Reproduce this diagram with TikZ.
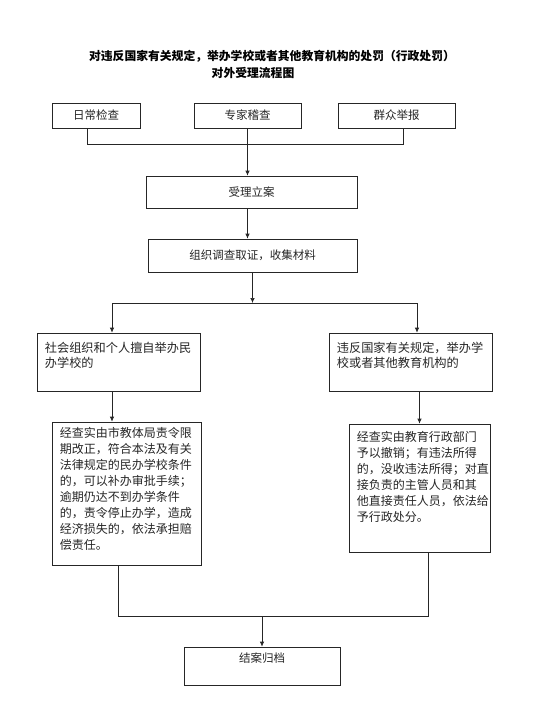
\documentclass[tikz,border=0pt]{standalone}
\usepackage{fontspec}
\setmainfont{Noto Sans CJK SC}
\usetikzlibrary{arrows.meta,calc}
\begin{document}
\begin{tikzpicture}[x=1pt,y=-1pt,
  box/.style={draw=black!85, line width=0.7pt, inner sep=0pt, rectangle},
  lbl/.style={font=\fontsize{11.5}{14}\selectfont, text=black!85},
  body/.style={align=left, inner sep=0pt, text=black!85, anchor=north west},
  ln/.style={draw=black!85, line width=0.7pt},
  arr/.style={ln, -{Latex[length=5pt,width=4.5pt]}}]
\useasboundingbox (0,0) rectangle (539,715);
\fill[white] (0,0) rectangle (539,715);

\node[font=\bfseries\fontsize{11.8}{14}\selectfont] (t1) at (272,56) {对违反国家有关规定，举办学校或者其他教育机构的处罚（行政处罚）};
\node[font=\bfseries\fontsize{11.8}{14}\selectfont] (t2) at (253,73) {对外受理流程图};

\node[box, lbl, minimum width=88pt, minimum height=25pt] (b1) at (96,115.5) {日常检查};
\node[box, lbl, minimum width=107pt, minimum height=25pt] (b2) at (247.5,115.5) {专家稽查};
\node[box, lbl, minimum width=117pt, minimum height=25pt] (b3) at (396.5,115.5) {群众举报};

\node[box, lbl, minimum width=211pt, minimum height=32pt] (sl) at (251.5,192) {受理立案};
\node[box, lbl, minimum width=209pt, minimum height=33pt] (zz) at (252.5,255.5) {组织调查取证，收集材料};

\node[box, minimum width=163pt, minimum height=58pt] (L1) at (118.5,362) {};
\node[box, minimum width=163pt, minimum height=58pt] (R1) at (410.5,362) {};
\node[box, minimum width=149pt, minimum height=143pt] (L2) at (126.5,493.5) {};
\node[box, minimum width=141pt, minimum height=128pt] (R2) at (419.5,488) {};
\node[box, minimum width=156pt, minimum height=38pt,
      label={[lbl, anchor=north, yshift=-3pt]north:结案归档}] (en) at (262,666) {};

\node[body, font=\fontsize{12.2}{15}\selectfont] (L1t) at ($(L1.north west)+(8,9.5)$)
  {社会组织和个人擅自举办民\\办学校的};
\node[body, font=\fontsize{12.2}{15}\selectfont] (R1t) at ($(R1.north west)+(8,9.5)$)
  {违反国家有关规定，举办学\\校或者其他教育机构的};
\node[body, font=\fontsize{12}{16}\selectfont] (L2t) at ($(L2.north west)+(8,5.5)$)
  {经查实由市教体局责令限\\期改正，符合本法及有关\\法律规定的民办学校条件\\的，可以补办审批手续；\\逾期仍达不到办学条件\\的，责令停止办学，造成\\经济损失的，依法承担赔\\偿责任。};
\node[body, font=\fontsize{12}{16}\selectfont] (R2t) at ($(R2.north west)+(8,7.5)$)
  {经查实由教育行政部门\\予以撤销；有违法所得\\的，没收违法所得；对直\\接负责的主管人员和其\\他直接责任人员，依法给\\予行政处分。};

\coordinate (hL) at (87,144);
\coordinate (hR) at (403,144);
\draw[ln] (b1.south -| hL) -- (hL) -- (hR) -- (b3.south -| hR);
\draw[ln] (b2.south) -- (b2.south |- hL);
\draw[arr] (b2.south |- hL) -- (sl.north -| b2.south);
\draw[arr] (sl.south -| b2.south) -- (zz.north -| b2.south);

\coordinate (brL) at (112,303);
\coordinate (brR) at (417,303);
\draw[arr] (zz.south) -- (zz.south |- brL);
\draw[ln] (brL) -- (brR);
\draw[arr] (brL) -- (L1.north -| brL);
\draw[arr] (brR) -- (R1.north -| brR);
\draw[arr] (L1.south -| brL) -- (L2.north -| brL);
\draw[arr] (R1.south -| R2.north) -- (R2.north);

\coordinate (eL) at (118,616);
\coordinate (eR) at (428,616);
\draw[ln] (L2.south -| eL) -- (eL) -- (eR) -- (R2.south -| eR);
\draw[arr] (eL -| en.north) -- (en.north);
\end{tikzpicture}
\end{document}
